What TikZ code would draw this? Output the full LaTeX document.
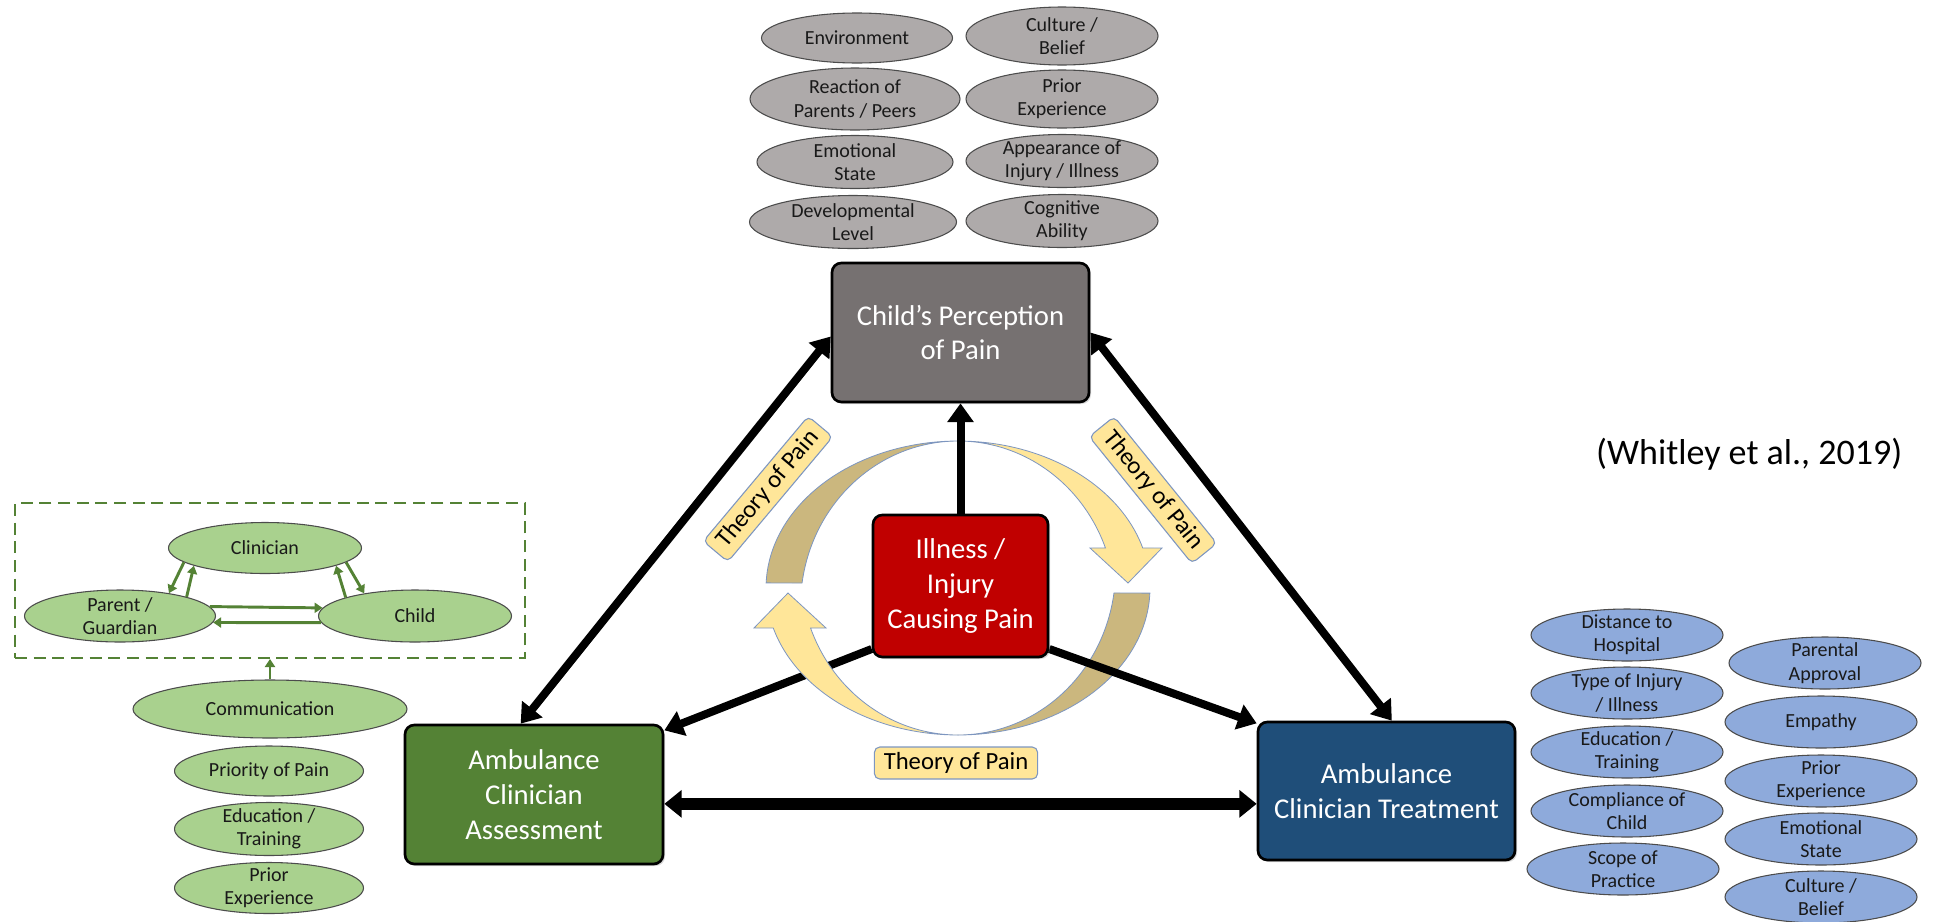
\documentclass[tikz,border=0pt]{standalone}
\usepackage{fontspec}
\setmainfont{Carlito}
\usetikzlibrary{arrows.meta,shapes.geometric,shadows}
\definecolor{boxgray}{RGB}{118,113,113}
\definecolor{boxred}{RGB}{192,0,0}
\definecolor{boxgreen}{RGB}{84,130,53}
\definecolor{boxblue}{RGB}{31,78,121}
\definecolor{ovgray}{RGB}{174,170,170}
\definecolor{ovgreen}{RGB}{169,209,142}
\definecolor{ovblue}{RGB}{142,170,219}
\definecolor{ringlight}{RGB}{255,230,153}
\definecolor{ringdark}{RGB}{203,183,126}
\definecolor{ringline}{RGB}{125,150,192}
\pgfdeclarelayer{back}
\pgfsetlayers{back,main}
\tikzset{
  sz/.style 2 args={minimum width=#1*0.75pt, minimum height=#2*0.75pt},
  mainbox/.style={rectangle, rounded corners=7pt, draw=black, line width=2pt,
    text=white, align=center, font=\fontsize{21.5}{26}\selectfont, inner sep=0pt,
    drop shadow={shadow xshift=1.5pt, shadow yshift=-1.5pt, opacity=0.3}},
  oval/.style={ellipse, draw=black!70, line width=0.8pt, align=center,
    inner xsep=0pt, inner ysep=-4pt, text=black!90, font=\fontsize{15}{17.5}\selectfont},
  grayoval/.style={oval, fill=ovgray},
  greenoval/.style={oval, fill=ovgreen},
  blueoval/.style={oval, fill=ovblue, sz={192}{52}},
  theory/.style={rectangle, rounded corners=4pt, draw=ringline, line width=0.8pt,
    fill=ringlight, font=\fontsize{18.5}{20}\selectfont, minimum height=24pt, inner xsep=7pt},
  ringpart/.style={draw=ringline, line width=0.6pt},
  bigarr/.style={line width=6pt, -{Triangle[length=14pt,width=19pt]}},
  bigdbl/.style={line width=6pt, {Triangle[length=14pt,width=19pt]}-{Triangle[length=14pt,width=19pt]}},
  hdbl/.style={line width=9pt, {Triangle[length=13pt,width=20pt]}-{Triangle[length=13pt,width=20pt]}},
  garr/.style={draw=boxgreen, line width=2.2pt, -{Triangle[length=6pt,width=7.5pt]}}
}

\begin{document}
\begin{tikzpicture}[x=0.75pt,y=-0.75pt]
\useasboundingbox (0,0) rectangle (1934,921);

% influences on the child's perception
\node[grayoval, sz={191}{50}] (env) at (857,38) {Environment};
\node[grayoval, sz={210}{62}] (react) at (855,99) {Reaction of\\Parents / Peers};
\node[grayoval, sz={196}{53}] (emo) at (855,162) {Emotional\\State};
\node[grayoval, sz={207}{53}] (dev) at (853,222) {Developmental\\Level};
\node[grayoval, sz={192}{58}] (cult) at (1062,36) {Culture /\\Belief};
\node[grayoval, sz={192}{58}] (prior) at (1062,99) {Prior\\Experience};
\node[grayoval, sz={192}{53}] (appear) at (1062,161) {Appearance of\\Injury / Illness};
\node[grayoval, sz={192}{53}] (cog) at (1062,221) {Cognitive\\Ability};

% main boxes
\node[mainbox, fill=boxgray, sz={257}{139}] (child) at (960.5,332.5) {Child’s Perception\\of Pain};
\node[mainbox, fill=boxred, sz={175}{142}] (ill) at (960.5,586) {Illness /\\Injury\\Causing Pain};
\node[mainbox, fill=boxgreen, sz={258}{139}] (assess) at (534,794.5) {Ambulance\\Clinician\\Assessment};
\node[mainbox, fill=boxblue, sz={257}{138}] (treat) at (1386.5,791) {Ambulance\\Clinician Treatment};

% theory labels
\node[theory, rotate=50] (thl) at (768,489) {Theory of Pain};
\node[theory, rotate=-51] (thr) at (1153,490) {Theory of Pain};
\node[theory] (thb) at (956,763) {Theory of Pain};

% citation
\node[anchor=east, font=\fontsize{27}{32}\selectfont] (cite) at (1907,454) {(Whitley et al., 2019)};

% communication triangle
\node[rectangle, draw=boxgreen, line width=1.5pt, dash pattern=on 9pt off 5pt, sz={510}{155}] (grp) at (270,580.5) {};
\node[greenoval, sz={193}{51}] (clin) at (265,548) {Clinician};
\node[greenoval, sz={191}{52}] (par) at (120,616) {Parent /\\Guardian};
\node[greenoval, sz={193}{52}] (chi) at (415,616) {Child};
\node[greenoval, sz={274}{58}] (comm) at (270,709) {Communication};
\node[greenoval, sz={189}{50}] (prio) at (269,771) {Priority of Pain};
\node[greenoval, sz={189}{53}] (gedu) at (269,829) {Education /\\Training};
\node[greenoval, sz={189}{51}] (gprior) at (269,888) {Prior\\Experience};

\draw[garr] (clin.190) -- (par.25);
\draw[garr] (par.16) -- (clin.194);
\draw[garr] (clin.-10) -- (chi.156);
\draw[garr] (chi.165) -- (clin.-14);
\draw[garr] (par.6) -- (chi.175);
\draw[garr] (chi.184) -- (par.-4);
\draw[garr] (comm.north) -- (comm.north |- grp.south);

% influences on treatment
\node[blueoval] (dist) at (1627,635) {Distance to\\Hospital};
\node[blueoval] (type) at (1627,693) {Type of Injury\\/ Illness};
\node[blueoval] (bedu) at (1627,752) {Education /\\Training};
\node[blueoval] (comp) at (1627,811) {Compliance of\\Child};
\node[blueoval] (scope) at (1623,869) {Scope of\\Practice};
\node[blueoval] (parap) at (1825,663) {Parental\\Approval};
\node[blueoval] (emp) at (1821,722) {Empathy};
\node[blueoval] (bprior) at (1821,781) {Prior\\Experience};
\node[blueoval] (bemo) at (1821,839) {Emotional\\State};
\node[blueoval] (bcult) at (1821,897) {Culture /\\Belief};

\begin{pgfonlayer}{back}
% circular arrows around the central box: outer ellipse shared,
% inner edges are taller ellipses touching the outer one at top or bottom
\filldraw[ringpart, fill=ringdark]
  plot[domain=178:90, samples=40, variable=\t] ({958+192*cos(\t)},{588-147*sin(\t)})
  -- plot[domain=90:172, samples=40, variable=\t] ({958+157.5*cos(\t)},{606-165*sin(\t)}) -- cycle;
\filldraw[ringpart, fill=ringdark]
  plot[domain=-2:-90, samples=40, variable=\t] ({958+192*cos(\t)},{588-147*sin(\t)})
  -- plot[domain=-90:-8, samples=40, variable=\t] ({958+157.5*cos(\t)},{570-165*sin(\t)}) -- cycle;
\filldraw[ringpart, fill=ringlight]
  plot[domain=90:15.8, samples=40, variable=\t] ({958+192*cos(\t)},{588-147*sin(\t)})
  -- (1162,548) -- (1128,583) -- (1090,548)
  -- plot[domain=20.6:90, samples=40, variable=\t] ({958+157.5*cos(\t)},{606-165*sin(\t)}) -- cycle;

% main connectors
\draw[bigarr] (ill.north) -- (child.south);
\draw[bigdbl] ([yshift=-3pt]child.west) -- ([xshift=-10pt]assess.north);
\draw[bigdbl] (child.east) -- ([xshift=4pt]treat.north);
\draw[bigarr] ([yshift=7pt]ill.south west) -- ([yshift=-5pt]assess.north east);
\draw[bigarr] ([yshift=7pt]ill.south east) -- ([yshift=-2pt]treat.north west);
\draw[hdbl] ([yshift=-7pt]assess.east) -- ([yshift=-7pt]assess.east -| treat.west);

\filldraw[ringpart, fill=ringlight]
  plot[domain=270:195.8, samples=40, variable=\t] ({958+192*cos(\t)},{588-147*sin(\t)})
  -- (754,628) -- (788,593) -- (826,628)
  -- plot[domain=200.6:270, samples=40, variable=\t] ({958+157.5*cos(\t)},{570-165*sin(\t)}) -- cycle;
\end{pgfonlayer}
\end{tikzpicture}
\end{document}
